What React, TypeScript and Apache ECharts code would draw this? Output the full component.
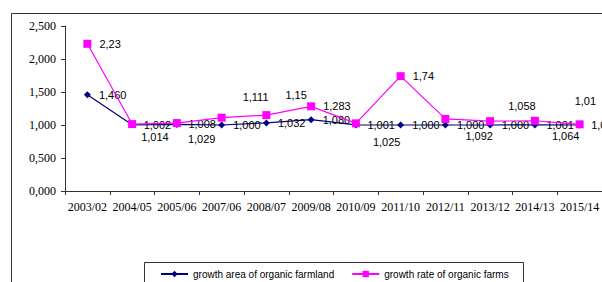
import React, { useEffect, useRef } from "react";
import * as echarts from "echarts";

const categories = ["2003/02", "2004/05", "2005/06", "2007/06", "2008/07", "2009/08", "2010/09", "2011/10", "2012/11", "2013/12", "2014/13", "2015/14"];
const farmlandArea = [1.46, 1.002, 1.008, 1.0, 1.032, 1.08, 1.001, 1.0, 1.0, 1.0, 1.001, 1.0];
const farmsRate = [2.23, 1.014, 1.029, 1.111, 1.15, 1.283, 1.025, 1.74, 1.092, 1.058, 1.064, 1.01];
const yTicks = { min: 0, max: 2.5, interval: 0.5 };
// label placement (px from point) for the pink series, as in the reference
const farmsLabelOffsets: [number, number][] = [
  [12, 0], [9, 13], [11, 16], [21, -21], [19, -20], [12, 0],
  [17, 19], [12, 0], [20, 17], [18, -15], [17, 15], [-5, -23],
];

const SANS = "Liberation Sans";
const SERIF = "Liberation Serif";

export default function App() {
  const ref = useRef<HTMLDivElement>(null);
  useEffect(() => {
    if (!ref.current) return;
    const chart = echarts.init(ref.current, undefined, { renderer: "svg" });
    const comma = (s: string) => s.replace(".", ",");
    chart.setOption({
      animation: false,
      backgroundColor: "#ffffff",
      textStyle: { fontFamily: SERIF },
      grid: { left: 65, top: 26, width: 546, height: 165, containLabel: false },
      xAxis: {
        type: "category",
        data: categories,
        boundaryGap: true,
        axisLine: { lineStyle: { color: "#333", width: 1 } },
        axisTick: { show: true, length: 4, lineStyle: { color: "#333" } },
        axisLabel: { color: "#000", fontFamily: SERIF, fontSize: 12, margin: 10, interval: 0 },
        splitLine: { show: false },
      },
      yAxis: {
        type: "value",
        min: yTicks.min,
        max: yTicks.max,
        interval: yTicks.interval,
        axisLine: { show: true, lineStyle: { color: "#333", width: 1 } },
        axisTick: { show: true, length: 4, lineStyle: { color: "#333" } },
        axisLabel: {
          color: "#000",
          fontFamily: SERIF,
          fontSize: 12,
          margin: 9,
          formatter: (v: number) => comma(v.toFixed(3)),
        },
        splitLine: { show: false },
      },
      legend: {
        left: 160,
        top: 269,
        itemWidth: 27,
        itemHeight: 8,
        itemGap: 17,
        padding: 0,
        textStyle: { fontFamily: SANS, fontSize: 10, color: "#000" },
        data: ["growth area of organic farmland", "growth rate of organic farms"],
      },
      graphic: [
        {
          type: "rect",
          silent: true,
          shape: { x: 11.5, y: 13.5, width: 700, height: 400 },
          style: { fill: "none", stroke: "#333", lineWidth: 1 },
          z: -10,
        },
        {
          type: "rect",
          silent: true,
          shape: { x: 144.5, y: 262.5, width: 379, height: 40 },
          style: { fill: "none", stroke: "#333", lineWidth: 1 },
          z: -10,
        },
      ],
      series: [
        {
          name: "growth area of organic farmland",
          type: "line",
          data: farmlandArea,
          symbol: "diamond",
          symbolSize: 7,
          color: "#000080",
          lineStyle: { color: "#000080", width: 1.2 },
          itemStyle: { color: "#000080" },
          z: 2,
          label: {
            show: true,
            position: "right",
            distance: 8,
            fontFamily: SANS,
            fontSize: 11,
            color: "#000",
            formatter: (p: any) => comma(Number(p.value).toFixed(3)),
          },
        },
        {
          name: "growth rate of organic farms",
          type: "line",
          data: farmsRate.map((v, i) => ({
            value: v,
            label: {
              position: "right",
              distance: 0,
              offset: [farmsLabelOffsets[i][0] - 4, farmsLabelOffsets[i][1]],
            },
          })),
          symbol: "rect",
          symbolSize: 8,
          color: "#ff00ff",
          lineStyle: { color: "#ff00ff", width: 1.2 },
          itemStyle: { color: "#ff00ff" },
          z: 3,
          label: {
            show: true,
            fontFamily: SANS,
            fontSize: 11,
            color: "#000",
            formatter: (p: any) => comma(String(p.value)),
          },
        },
      ],
    });
    return () => chart.dispose();
  }, []);
  return (
    <div
      ref={ref}
      style={{ position: "fixed", left: 0, top: 0, width: 602, height: 282, background: "#fff" }}
    />
  );
}
